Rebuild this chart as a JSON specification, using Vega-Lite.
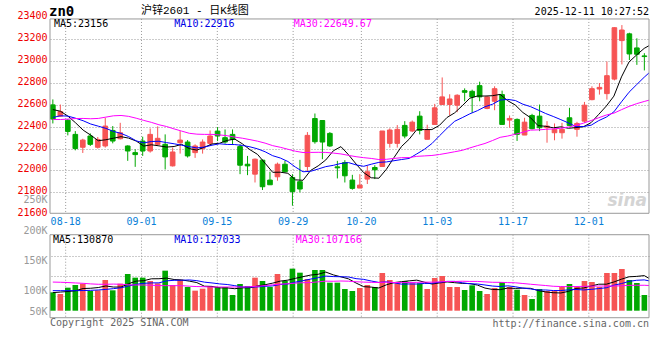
{
"$schema":"https://vega.github.io/schema/vega-lite/v6.json",
"width":599,"height":301,
"autosize":{"type":"none"},
"padding":{"left":50,"top":17,"right":11,"bottom":42},
"background":"white",
"config":{"view":{"stroke":null},"axis":{"labelFont":"DejaVu Sans Mono"}},
"datasets":{"k":[
{"d":"08-14","o":22600,"h":22650,"l":22430,"c":22470,"v":98300,"m5":22557,"m10":22485,"m30":22466,"vm5":97500,"vm10":102700,"vm30":125300},
{"d":"08-15","o":22497,"h":22603,"l":22490,"c":22539,"v":93900,"m5":22542,"m10":22500,"m30":22466,"vm5":99000,"vm10":102700,"vm30":124800},
{"d":"08-18","o":22460,"h":22470,"l":22321,"c":22357,"v":110600,"m5":22497,"m10":22497,"m30":22470,"vm5":100500,"vm10":102700,"vm30":124000},
{"d":"08-19","o":22330,"h":22360,"l":22184,"c":22200,"v":117600,"m5":22436,"m10":22478,"m30":22475,"vm5":102500,"vm10":102700,"vm30":123000},
{"d":"08-20","o":22212,"h":22290,"l":22160,"c":22278,"v":121100,"m5":22369,"m10":22455,"m30":22476,"vm5":108300,"vm10":103000,"vm30":122000},
{"d":"08-21","o":22315,"h":22339,"l":22224,"c":22239,"v":101800,"m5":22323,"m10":22425,"m30":22473,"vm5":109000,"vm10":103500,"vm30":120500},
{"d":"08-22","o":22212,"h":22306,"l":22200,"c":22284,"v":103600,"m5":22272,"m10":22405,"m30":22476,"vm5":110900,"vm10":104500,"vm30":119500},
{"d":"08-25","o":22224,"h":22481,"l":22209,"c":22406,"v":130700,"m5":22281,"m10":22385,"m30":22488,"vm5":115000,"vm10":106000,"vm30":119500},
{"d":"08-26","o":22366,"h":22406,"l":22248,"c":22269,"v":103600,"m5":22295,"m10":22357,"m30":22500,"vm5":112200,"vm10":108000,"vm30":120000},
{"d":"08-27","o":22290,"h":22436,"l":22284,"c":22345,"v":121100,"m5":22309,"m10":22339,"m30":22503,"vm5":112200,"vm10":110300,"vm30":119500},
{"d":"08-28","o":22224,"h":22230,"l":22088,"c":22178,"v":146500,"m5":22296,"m10":22310,"m30":22495,"vm5":121100,"vm10":115100,"vm30":118000},
{"d":"08-29","o":22163,"h":22194,"l":22033,"c":22145,"v":136900,"m5":22269,"m10":22271,"m30":22478,"vm5":127800,"vm10":119400,"vm30":117600},
{"d":"09-01","o":22269,"h":22309,"l":22133,"c":22178,"v":136900,"m5":22223,"m10":22252,"m30":22458,"vm5":129000,"vm10":122000,"vm30":117600},
{"d":"09-02","o":22178,"h":22384,"l":22163,"c":22330,"v":128100,"m5":22235,"m10":22265,"m30":22440,"vm5":133900,"vm10":123100,"vm30":117000},
{"d":"09-03","o":22239,"h":22403,"l":22230,"c":22294,"v":122000,"m5":22225,"m10":22267,"m30":22418,"vm5":134100,"vm10":123200,"vm30":116000},
{"d":"09-04","o":22239,"h":22330,"l":22009,"c":22124,"v":155300,"m5":22214,"m10":22255,"m30":22402,"vm5":135800,"vm10":128500,"vm30":115800},
{"d":"09-05","o":22042,"h":22209,"l":22036,"c":22169,"v":117600,"m5":22219,"m10":22244,"m30":22380,"vm5":132000,"vm10":129900,"vm30":115800},
{"d":"09-08","o":22254,"h":22360,"l":22154,"c":22278,"v":131600,"m5":22239,"m10":22231,"m30":22360,"vm5":130900,"vm10":130000,"vm30":115800},
{"d":"09-09","o":22260,"h":22278,"l":22118,"c":22133,"v":112300,"m5":22200,"m10":22218,"m30":22340,"vm5":127800,"vm10":130900,"vm30":114500},
{"d":"09-10","o":22163,"h":22239,"l":22115,"c":22224,"v":102700,"m5":22186,"m10":22206,"m30":22332,"vm5":123900,"vm10":129000,"vm30":113500},
{"d":"09-11","o":22200,"h":22284,"l":22154,"c":22260,"v":107900,"m5":22213,"m10":22214,"m30":22330,"vm5":114400,"vm10":125100,"vm30":113000},
{"d":"09-12","o":22248,"h":22366,"l":22224,"c":22315,"v":115000,"m5":22242,"m10":22231,"m30":22330,"vm5":113900,"vm10":123000,"vm30":112300},
{"d":"09-15","o":22360,"h":22397,"l":22269,"c":22315,"v":112300,"m5":22249,"m10":22244,"m30":22325,"vm5":110000,"vm10":120500,"vm30":112300},
{"d":"09-16","o":22300,"h":22375,"l":22245,"c":22260,"v":112300,"m5":22275,"m10":22238,"m30":22318,"vm5":110000,"vm10":118900,"vm30":112300},
{"d":"09-17","o":22330,"h":22375,"l":22239,"c":22284,"v":91300,"m5":22287,"m10":22237,"m30":22305,"vm5":107800,"vm10":115900,"vm30":112300},
{"d":"09-18","o":22218,"h":22239,"l":21966,"c":22048,"v":120200,"m5":22244,"m10":22229,"m30":22295,"vm5":110200,"vm10":112300,"vm30":112300},
{"d":"09-19","o":22057,"h":22133,"l":21957,"c":22042,"v":115000,"m5":22190,"m10":22216,"m30":22282,"vm5":110200,"vm10":112100,"vm30":113000},
{"d":"09-22","o":21966,"h":22109,"l":21890,"c":22103,"v":136900,"m5":22147,"m10":22198,"m30":22268,"vm5":115100,"vm10":112600,"vm30":114300},
{"d":"09-23","o":22094,"h":22100,"l":21821,"c":21851,"v":128100,"m5":22066,"m10":22171,"m30":22250,"vm5":118300,"vm10":114200,"vm30":116000},
{"d":"09-24","o":21912,"h":21988,"l":21869,"c":21869,"v":112300,"m5":21983,"m10":22135,"m30":22227,"vm5":122500,"vm10":115200,"vm30":118100},
{"d":"09-25","o":21942,"h":22072,"l":21906,"c":22057,"v":146500,"m5":21984,"m10":22114,"m30":22212,"vm5":127800,"vm10":119000,"vm30":119700},
{"d":"09-26","o":22057,"h":22088,"l":21981,"c":21988,"v":128100,"m5":21974,"m10":22082,"m30":22194,"vm5":130400,"vm10":120300,"vm30":120900},
{"d":"09-29","o":21936,"h":21966,"l":21678,"c":21806,"v":160600,"m5":21914,"m10":22031,"m30":22176,"vm5":135100,"vm10":125100,"vm30":122500},
{"d":"09-30","o":21897,"h":22097,"l":21800,"c":21830,"v":150000,"m5":21910,"m10":21988,"m30":22164,"vm5":139500,"vm10":128900,"vm30":123600},
{"d":"10-09","o":22036,"h":22351,"l":21988,"c":22321,"v":133400,"m5":22000,"m10":21992,"m30":22165,"vm5":143700,"vm10":133100,"vm30":124000},
{"d":"10-10","o":22475,"h":22521,"l":22245,"c":22263,"v":157000,"m5":22042,"m10":22013,"m30":22166,"vm5":145800,"vm10":136800,"vm30":125900},
{"d":"10-13","o":22457,"h":22460,"l":22103,"c":22260,"v":157000,"m5":22096,"m10":22035,"m30":22165,"vm5":151600,"vm10":141000,"vm30":127700},
{"d":"10-14","o":22339,"h":22351,"l":22215,"c":22224,"v":123700,"m5":22180,"m10":22047,"m30":22159,"vm5":144200,"vm10":139700,"vm30":127400},
{"d":"10-15","o":22033,"h":22088,"l":21927,"c":22024,"v":123700,"m5":22218,"m10":22064,"m30":22151,"vm5":139000,"vm10":139300,"vm30":128100},
{"d":"10-16","o":22072,"h":22094,"l":21890,"c":21951,"v":107100,"m5":22144,"m10":22072,"m30":22138,"vm5":133700,"vm10":138700,"vm30":127600},
{"d":"10-17","o":21912,"h":21960,"l":21824,"c":21836,"v":101800,"m5":22059,"m10":22051,"m30":22126,"vm5":122700,"vm10":134300,"vm30":126100},
{"d":"10-20","o":21839,"h":21966,"l":21839,"c":21866,"v":109700,"m5":21980,"m10":22038,"m30":22117,"vm5":113200,"vm10":132400,"vm30":125200},
{"d":"10-21","o":21921,"h":22042,"l":21876,"c":21988,"v":117600,"m5":21933,"m10":22057,"m30":22110,"vm5":112000,"vm10":128100,"vm30":124600},
{"d":"10-22","o":22027,"h":22048,"l":21921,"c":22006,"v":112300,"m5":21929,"m10":22074,"m30":22100,"vm5":109700,"vm10":124400,"vm30":124100},
{"d":"10-23","o":22036,"h":22361,"l":22036,"c":22361,"v":149200,"m5":22011,"m10":22078,"m30":22102,"vm5":118100,"vm10":125900,"vm30":125000},
{"d":"10-24","o":22248,"h":22385,"l":22209,"c":22370,"v":130700,"m5":22118,"m10":22089,"m30":22110,"vm5":123900,"vm10":123300,"vm30":124100},
{"d":"10-27","o":22248,"h":22415,"l":22209,"c":22376,"v":122000,"m5":22220,"m10":22100,"m30":22117,"vm5":126400,"vm10":119800,"vm30":124300},
{"d":"10-28","o":22412,"h":22451,"l":22294,"c":22315,"v":128100,"m5":22286,"m10":22110,"m30":22118,"vm5":128500,"vm10":120300,"vm30":124200},
{"d":"10-29","o":22361,"h":22457,"l":22351,"c":22442,"v":122000,"m5":22373,"m10":22151,"m30":22129,"vm5":130400,"vm10":120100,"vm30":124500},
{"d":"10-30","o":22497,"h":22542,"l":22330,"c":22367,"v":122000,"m5":22374,"m10":22193,"m30":22133,"vm5":125000,"vm10":121600,"vm30":125100},
{"d":"10-31","o":22285,"h":22418,"l":22285,"c":22370,"v":107100,"m5":22374,"m10":22246,"m30":22137,"vm5":120200,"vm10":122100,"vm30":125100},
{"d":"11-03","o":22421,"h":22609,"l":22421,"c":22573,"v":136000,"m5":22413,"m10":22317,"m30":22146,"vm5":123000,"vm10":124700,"vm30":125800},
{"d":"11-04","o":22603,"h":22851,"l":22603,"c":22673,"v":141300,"m5":22485,"m10":22386,"m30":22158,"vm5":125700,"vm10":127100,"vm30":126800},
{"d":"11-05","o":22603,"h":22697,"l":22503,"c":22654,"v":112300,"m5":22527,"m10":22450,"m30":22171,"vm5":123700,"vm10":127100,"vm30":126800},
{"d":"11-06","o":22597,"h":22697,"l":22533,"c":22688,"v":112300,"m5":22592,"m10":22483,"m30":22184,"vm5":121800,"vm10":123400,"vm30":127500},
{"d":"11-07","o":22730,"h":22751,"l":22633,"c":22715,"v":104400,"m5":22661,"m10":22518,"m30":22206,"vm5":121300,"vm10":120800,"vm30":127000},
{"d":"11-10","o":22724,"h":22739,"l":22527,"c":22673,"v":116700,"m5":22681,"m10":22547,"m30":22227,"vm5":117400,"vm10":120200,"vm30":127000},
{"d":"11-11","o":22776,"h":22812,"l":22633,"c":22673,"v":101800,"m5":22681,"m10":22583,"m30":22247,"vm5":109500,"vm10":117600,"vm30":125800},
{"d":"11-12","o":22567,"h":22680,"l":22560,"c":22673,"v":93900,"m5":22684,"m10":22606,"m30":22274,"vm5":105800,"vm10":114800,"vm30":124700},
{"d":"11-13","o":22633,"h":22770,"l":22551,"c":22748,"v":109700,"m5":22696,"m10":22644,"m30":22303,"vm5":105300,"vm10":113600,"vm30":124600},
{"d":"11-14","o":22694,"h":22730,"l":22421,"c":22421,"v":125500,"m5":22638,"m10":22650,"m30":22315,"vm5":109500,"vm10":115400,"vm30":123900},
{"d":"11-17","o":22461,"h":22503,"l":22391,"c":22476,"v":112300,"m5":22598,"m10":22640,"m30":22331,"vm5":108600,"vm10":113000,"vm30":123400},
{"d":"11-18","o":22467,"h":22476,"l":22270,"c":22330,"v":105300,"m5":22530,"m10":22606,"m30":22349,"vm5":109300,"vm10":109400,"vm30":121500},
{"d":"11-19","o":22324,"h":22482,"l":22324,"c":22442,"v":91300,"m5":22483,"m10":22584,"m30":22369,"vm5":108800,"vm10":107300,"vm30":119600},
{"d":"11-20","o":22503,"h":22518,"l":22376,"c":22382,"v":80800,"m5":22410,"m10":22553,"m30":22371,"vm5":103000,"vm10":104200,"vm30":117800},
{"d":"11-21","o":22497,"h":22603,"l":22360,"c":22391,"v":107100,"m5":22404,"m10":22521,"m30":22376,"vm5":99400,"vm10":104500,"vm30":116200},
{"d":"11-24","o":22391,"h":22451,"l":22254,"c":22406,"v":101800,"m5":22390,"m10":22494,"m30":22380,"vm5":97300,"vm10":103000,"vm30":114300},
{"d":"11-25","o":22345,"h":22430,"l":22276,"c":22376,"v":101800,"m5":22399,"m10":22465,"m30":22386,"vm5":96600,"vm10":103000,"vm30":113600},
{"d":"11-26","o":22345,"h":22436,"l":22291,"c":22376,"v":112300,"m5":22386,"m10":22435,"m30":22397,"vm5":100800,"vm10":104800,"vm30":113200},
{"d":"11-27","o":22482,"h":22573,"l":22406,"c":22412,"v":120200,"m5":22392,"m10":22401,"m30":22413,"vm5":108600,"vm10":105800,"vm30":113600},
{"d":"11-28","o":22376,"h":22445,"l":22309,"c":22430,"v":112300,"m5":22400,"m10":22402,"m30":22433,"vm5":109700,"vm10":104600,"vm30":114000},
{"d":"12-01","o":22451,"h":22627,"l":22436,"c":22597,"v":128100,"m5":22438,"m10":22414,"m30":22457,"vm5":114900,"vm10":106100,"vm30":114600},
{"d":"12-02","o":22648,"h":22770,"l":22642,"c":22748,"v":125500,"m5":22513,"m10":22456,"m30":22482,"vm5":119700,"vm10":108200,"vm30":114900},
{"d":"12-03","o":22745,"h":22800,"l":22694,"c":22760,"v":112300,"m5":22589,"m10":22488,"m30":22507,"vm5":119700,"vm10":110300,"vm30":114900},
{"d":"12-04","o":22703,"h":22997,"l":22648,"c":22867,"v":149200,"m5":22680,"m10":22536,"m30":22524,"vm5":125500,"vm10":117100,"vm30":114900},
{"d":"12-05","o":22836,"h":23310,"l":22824,"c":23306,"v":149200,"m5":22856,"m10":22628,"m30":22556,"vm5":132900,"vm10":121300,"vm30":115500},
{"d":"12-08","o":23188,"h":23330,"l":22970,"c":23285,"v":159700,"m5":22993,"m10":22716,"m30":22586,"vm5":139200,"vm10":127100,"vm30":116700},
{"d":"12-09","o":23250,"h":23260,"l":23010,"c":23066,"v":130700,"m5":23057,"m10":22785,"m30":22611,"vm5":140200,"vm10":130000,"vm30":116800},
{"d":"12-10","o":23121,"h":23209,"l":22966,"c":23063,"v":122900,"m5":23117,"m10":22853,"m30":22631,"vm5":142300,"vm10":131000,"vm30":116900},
{"d":"12-11","o":23048,"h":23073,"l":22915,"c":23042,"v":91300,"m5":23156,"m10":22916,"m30":22650,"vm5":130870,"vm10":127033,"vm30":115800}
]},
"data":{"name":"k"},
"resolve":{"scale":{"x":"independent","y":"independent"}},
"layer":[
{"layer":[
 {"mark":{"type":"rule","strokeDash":[1,2],"color":"#999999","xOffset":0.5},
  "encoding":{
   "x":{"field":"d","type":"ordinal","scale":{"type":"point","padding":0},"axis":null},
   "y":{"datum":23386,"type":"quantitative","scale":{"domain":[20650,23404],"nice":false,"zero":false},"axis":null},
   "y2":{"datum":21608},
   "strokeOpacity":{"condition":{"test":"indexof(['08-18','09-01','09-15','09-29','10-20','11-03','11-17','12-01'], datum.d) >= 0","value":1},"value":0}}},
 {"transform":[{"filter":{"field":"d","oneOf":["08-18","09-01","09-15","09-29","10-20","11-03","11-17","12-01"]}}],
  "mark":{"type":"text","font":"DejaVu Sans Mono","fontSize":10,"color":"#0a7fd8","align":"center","baseline":"middle","xOffset":0.5},
  "encoding":{
   "x":{"field":"d","type":"ordinal","scale":{"type":"point","padding":0},"axis":null},
   "y":{"datum":21531,"type":"quantitative","scale":{"domain":[20650,23404],"nice":false,"zero":false},"axis":null},
   "text":{"field":"d"}}}
]},
{"layer":[
 {"mark":{"type":"rule","strokeDash":[1,2],"color":"#999999","xOffset":0.5},
  "encoding":{
   "x":{"field":"d","type":"ordinal","scale":{"type":"point","padding":0},"axis":null},
   "y":{"datum":249850,"type":"quantitative","scale":{"domain":[30800,822400],"nice":false,"zero":false},
        "axis":{"orient":"right","values":[89400,142000,194600],"labels":false,"ticks":false,"domain":false,"grid":true,"gridColor":"#999999","gridDash":[1,2],"title":null}},
   "y2":{"datum":31500},
   "strokeOpacity":{"condition":{"test":"indexof(['08-18','09-01','09-15','09-29','10-20','11-03','11-17','12-01'], datum.d) >= 0","value":1},"value":0}}}
]},
{"encoding":{"x":{"field":"d","type":"ordinal","scale":{"type":"band","paddingInner":0,"paddingOuter":0},"axis":null}},
 "layer":[
 {"mark":{"type":"rule","xOffset":-0.9,"strokeWidth":1},
  "encoding":{
   "y":{"field":"l","type":"quantitative","scale":{"domain":[20650,23404],"nice":false,"zero":false},"title":null,
        "axis":{"orient":"left","format":"d","values":[21600,21800,22000,22200,22400,22600,22800,23000,23200,23400],"labelColor":"#ee0000","labelFont":"DejaVu Sans Mono","labelFontSize":10,"labelPadding":3,"labelOffset":-1.5,"labelFlush":false,"labelOverlap":false,"labelBound":false,"ticks":false,"domain":false,"grid":true,"gridColor":"#999999","gridDash":[1,2],"gridOpacity":{"condition":{"test":"datum.value == 21600 || datum.value == 23400","value":0},"value":1},"title":null}},
   "y2":{"field":"h"},
   "color":{"condition":{"test":"datum.c >= datum.o","value":"#f65454"},"value":"#00a800"}}},
 {"mark":{"type":"bar","width":{"band":0.62},"xOffset":-0.9,"strokeWidth":1},
  "encoding":{
   "y":{"field":"o","type":"quantitative","scale":{"domain":[20650,23404],"nice":false,"zero":false},"title":null,
        "axis":{"orient":"left","format":"d","values":[21600,21800,22000,22200,22400,22600,22800,23000,23200,23400],"labelColor":"#ee0000","labelFont":"DejaVu Sans Mono","labelFontSize":10,"labelPadding":3,"labelOffset":-1.5,"labelFlush":false,"labelOverlap":false,"labelBound":false,"ticks":false,"domain":false,"grid":true,"gridColor":"#999999","gridDash":[1,2],"gridOpacity":{"condition":{"test":"datum.value == 21600 || datum.value == 23400","value":0},"value":1},"title":null}},
   "y2":{"field":"c"},
   "color":{"condition":{"test":"datum.c >= datum.o","value":"#f65454"},"value":"#00a800"},
   "stroke":{"condition":{"test":"datum.c >= datum.o","value":"#f65454"},"value":"#00a800"}}}
]},
{"layer":[
 {"mark":{"type":"line","clip":true,"xOffset":2.8,"strokeWidth":1,"color":"#000000"},
  "encoding":{"x":{"field":"d","type":"ordinal","scale":{"type":"point","padding":0},"axis":null},
   "y":{"field":"m5","type":"quantitative","scale":{"domain":[20650,23404],"nice":false,"zero":false},"axis":null}}},
 {"mark":{"type":"line","clip":true,"xOffset":2.8,"strokeWidth":1,"color":"#0000ff"},
  "encoding":{"x":{"field":"d","type":"ordinal","scale":{"type":"point","padding":0},"axis":null},
   "y":{"field":"m10","type":"quantitative","scale":{"domain":[20650,23404],"nice":false,"zero":false},"axis":null}}},
 {"mark":{"type":"line","clip":true,"xOffset":2.8,"strokeWidth":1,"color":"#ff00ff"},
  "encoding":{"x":{"field":"d","type":"ordinal","scale":{"type":"point","padding":0},"axis":null},
   "y":{"field":"m30","type":"quantitative","scale":{"domain":[20650,23404],"nice":false,"zero":false},"axis":null}}},
 {"data":{"values":[{}]},"mark":{"type":"rule","color":"#999999","strokeWidth":1},
  "encoding":{"y":{"datum":23386,"type":"quantitative","scale":{"domain":[20650,23404],"nice":false,"zero":false},"axis":null}}},
 {"data":{"values":[{}]},"mark":{"type":"rule","color":"#999999","strokeWidth":1},
  "encoding":{"y":{"datum":21608,"type":"quantitative","scale":{"domain":[20650,23404],"nice":false,"zero":false},"axis":null}}},
 {"data":{"values":[{}]},"mark":{"type":"rule","color":"#999999","strokeWidth":1},
  "encoding":{"x":{"datum":"08-14","type":"ordinal","scale":{"type":"point","padding":0},"axis":null},
   "y":{"datum":23386,"type":"quantitative","scale":{"domain":[20650,23404],"nice":false,"zero":false},"axis":null},"y2":{"datum":21608}}},
 {"data":{"values":[{}]},"mark":{"type":"rule","color":"#999999","strokeWidth":1},
  "encoding":{"x":{"datum":"12-11","type":"ordinal","scale":{"type":"point","padding":0},"axis":null},
   "y":{"datum":23386,"type":"quantitative","scale":{"domain":[20650,23404],"nice":false,"zero":false},"axis":null},"y2":{"datum":21608}}},
 {"data":{"values":[{"x":"08-14","t":"MA5:23156"}]},"mark":{"type":"text","font":"DejaVu Sans Mono","fontSize":10,"color":"#000000","align":"left","baseline":"middle","dx":4},
  "encoding":{"x":{"field":"x","type":"ordinal","scale":{"type":"point","padding":0},"axis":null},
   "y":{"datum":23343,"type":"quantitative","scale":{"domain":[20650,23404],"nice":false,"zero":false},"axis":null},"text":{"field":"t"}}},
 {"data":{"values":[{"x":"09-05","t":"MA10:22916"}]},"mark":{"type":"text","font":"DejaVu Sans Mono","fontSize":10,"color":"#0000e6","align":"left","baseline":"middle","dx":3},
  "encoding":{"x":{"field":"x","type":"ordinal","scale":{"type":"point","padding":0},"axis":null},
   "y":{"datum":23343,"type":"quantitative","scale":{"domain":[20650,23404],"nice":false,"zero":false},"axis":null},"text":{"field":"t"}}},
 {"data":{"values":[{"x":"09-29","t":"MA30:22649.67"}]},"mark":{"type":"text","font":"DejaVu Sans Mono","fontSize":10,"color":"#ff00ff","align":"left","baseline":"middle","dx":1},
  "encoding":{"x":{"field":"x","type":"ordinal","scale":{"type":"point","padding":0},"axis":null},
   "y":{"datum":23343,"type":"quantitative","scale":{"domain":[20650,23404],"nice":false,"zero":false},"axis":null},"text":{"field":"t"}}},
 {"data":{"values":[{"x":"08-14","t":"zn0"}]},"mark":{"type":"text","font":"DejaVu Sans Mono","fontSize":14,"fontWeight":"bold","color":"#000000","align":"left","baseline":"middle","dx":-1},
  "encoding":{"x":{"field":"x","type":"ordinal","scale":{"type":"point","padding":0},"axis":null},
   "y":{"datum":23454,"type":"quantitative","scale":{"domain":[20650,23404],"nice":false,"zero":false},"axis":null},"text":{"field":"t"}}},
 {"data":{"values":[{"x":"09-01","t":"沪锌2601 - 日K线图"}]},"mark":{"type":"text","font":"Liberation Mono, Noto Sans CJK SC","fontSize":11,"color":"#000000","align":"left","baseline":"middle"},
  "encoding":{"x":{"field":"x","type":"ordinal","scale":{"type":"point","padding":0},"axis":null},
   "y":{"datum":23456,"type":"quantitative","scale":{"domain":[20650,23404],"nice":false,"zero":false},"axis":null},"text":{"field":"t"}}},
 {"data":{"values":[{"x":"12-11","t":"2025-12-11 10:27:52"}]},"mark":{"type":"text","font":"DejaVu Sans Mono","fontSize":10,"color":"#000000","align":"right","baseline":"middle"},
  "encoding":{"x":{"field":"x","type":"ordinal","scale":{"type":"point","padding":0},"axis":null},
   "y":{"datum":23454,"type":"quantitative","scale":{"domain":[20650,23404],"nice":false,"zero":false},"axis":null},"text":{"field":"t"}}},
 {"data":{"values":[{"x":"12-11","t":"sina"}]},"mark":{"type":"text","font":"DejaVu Sans","fontSize":17,"fontWeight":"bold","fontStyle":"italic","color":"#d4d4d4","align":"right","baseline":"middle","dx":-2},
  "encoding":{"x":{"field":"x","type":"ordinal","scale":{"type":"point","padding":0},"axis":null},
   "y":{"datum":21725,"type":"quantitative","scale":{"domain":[20650,23404],"nice":false,"zero":false},"axis":null},"text":{"field":"t"}}}
]},
{"encoding":{"x":{"field":"d","type":"ordinal","scale":{"type":"band","paddingInner":0,"paddingOuter":0},"axis":null}},
 "layer":[
 {"mark":{"type":"bar","width":{"band":0.75},"xOffset":-0.9},
  "encoding":{
   "y":{"field":"v","type":"quantitative","scale":{"domain":[30800,822400],"nice":false,"zero":false},"axis":null},
   "y2":{"datum":50000},
   "color":{"condition":{"test":"datum.c >= datum.o","value":"#f65454"},"value":"#00a800"}}}
]},
{"layer":[
 {"mark":{"type":"line","clip":true,"xOffset":2.8,"strokeWidth":1,"color":"#000000"},
  "encoding":{"x":{"field":"d","type":"ordinal","scale":{"type":"point","padding":0},"axis":null},
   "y":{"field":"vm5","type":"quantitative","scale":{"domain":[30800,822400],"nice":false,"zero":false},"title":null,
        "axis":{"orient":"left","values":[49180,102570,183310,262210,343740],"labelExpr":"datum.value > 300000 ? '250K' : datum.value > 220000 ? '200K' : datum.value > 150000 ? '150K' : datum.value > 80000 ? '100K' : '50K'","labelColor":"#999999","labelFont":"DejaVu Sans Mono","labelFontSize":10,"labelPadding":3,"labelFlush":false,"labelOverlap":false,"labelBound":false,"ticks":false,"domain":false,"grid":false,"title":null}}}},
 {"mark":{"type":"line","clip":true,"xOffset":2.8,"strokeWidth":1,"color":"#0000ff"},
  "encoding":{"x":{"field":"d","type":"ordinal","scale":{"type":"point","padding":0},"axis":null},
   "y":{"field":"vm10","type":"quantitative","scale":{"domain":[30800,822400],"nice":false,"zero":false},"title":null,
        "axis":{"orient":"left","values":[49180,102570,183310,262210,343740],"labelExpr":"datum.value > 300000 ? '250K' : datum.value > 220000 ? '200K' : datum.value > 150000 ? '150K' : datum.value > 80000 ? '100K' : '50K'","labelColor":"#999999","labelFont":"DejaVu Sans Mono","labelFontSize":10,"labelPadding":3,"labelFlush":false,"labelOverlap":false,"labelBound":false,"ticks":false,"domain":false,"grid":false,"title":null}}}},
 {"mark":{"type":"line","clip":true,"xOffset":2.8,"strokeWidth":1,"color":"#ff00ff"},
  "encoding":{"x":{"field":"d","type":"ordinal","scale":{"type":"point","padding":0},"axis":null},
   "y":{"field":"vm30","type":"quantitative","scale":{"domain":[30800,822400],"nice":false,"zero":false},"title":null,
        "axis":{"orient":"left","values":[49180,102570,183310,262210,343740],"labelExpr":"datum.value > 300000 ? '250K' : datum.value > 220000 ? '200K' : datum.value > 150000 ? '150K' : datum.value > 80000 ? '100K' : '50K'","labelColor":"#999999","labelFont":"DejaVu Sans Mono","labelFontSize":10,"labelPadding":3,"labelFlush":false,"labelOverlap":false,"labelBound":false,"ticks":false,"domain":false,"grid":false,"title":null}}}},
 {"data":{"values":[{}]},"mark":{"type":"rule","color":"#999999","strokeWidth":1},
  "encoding":{"y":{"datum":249850,"type":"quantitative","scale":{"domain":[30800,822400],"nice":false,"zero":false}}}},
 {"data":{"values":[{}]},"mark":{"type":"rule","color":"#999999","strokeWidth":1},
  "encoding":{"y":{"datum":31500,"type":"quantitative","scale":{"domain":[30800,822400],"nice":false,"zero":false}}}},
 {"data":{"values":[{}]},"mark":{"type":"rule","color":"#999999","strokeWidth":1},
  "encoding":{"x":{"datum":"08-14","type":"ordinal","scale":{"type":"point","padding":0},"axis":null},
   "y":{"datum":249850,"type":"quantitative","scale":{"domain":[30800,822400],"nice":false,"zero":false}},"y2":{"datum":31500}}},
 {"data":{"values":[{}]},"mark":{"type":"rule","color":"#999999","strokeWidth":1},
  "encoding":{"x":{"datum":"12-11","type":"ordinal","scale":{"type":"point","padding":0},"axis":null},
   "y":{"datum":249850,"type":"quantitative","scale":{"domain":[30800,822400],"nice":false,"zero":false}},"y2":{"datum":31500}}},
 {"data":{"values":[{"x":"08-14","t":"MA5:130870"},{"x":"09-05","t":"MA10:127033"},{"x":"09-29","t":"MA30:107166"}]},
  "mark":{"type":"text","font":"DejaVu Sans Mono","fontSize":10,"align":"left","baseline":"middle","dx":3},
  "encoding":{"x":{"field":"x","type":"ordinal","scale":{"type":"point","padding":0},"axis":null},
   "y":{"datum":235900,"type":"quantitative","scale":{"domain":[30800,822400],"nice":false,"zero":false}},"text":{"field":"t"},
   "color":{"field":"t","type":"nominal","scale":{"domain":["MA5:130870","MA10:127033","MA30:107166"],"range":["#000000","#0000e6","#ff00ff"]},"legend":null}}},
 {"data":{"values":[{"x":"08-14","t":"Copyright 2025 SINA.COM"}]},"mark":{"type":"text","font":"DejaVu Sans Mono","fontSize":10,"color":"#666666","align":"left","baseline":"middle"},
  "encoding":{"x":{"field":"x","type":"ordinal","scale":{"type":"point","padding":0},"axis":null},
   "y":{"datum":17600,"type":"quantitative","scale":{"domain":[30800,822400],"nice":false,"zero":false}},"text":{"field":"t"}}},
 {"data":{"values":[{"x":"12-11","t":"http://finance.sina.com.cn"}]},"mark":{"type":"text","font":"DejaVu Sans Mono","fontSize":10,"color":"#666666","align":"right","baseline":"middle"},
  "encoding":{"x":{"field":"x","type":"ordinal","scale":{"type":"point","padding":0},"axis":null},
   "y":{"datum":15000,"type":"quantitative","scale":{"domain":[30800,822400],"nice":false,"zero":false}},"text":{"field":"t"}}}
]}
]
}
